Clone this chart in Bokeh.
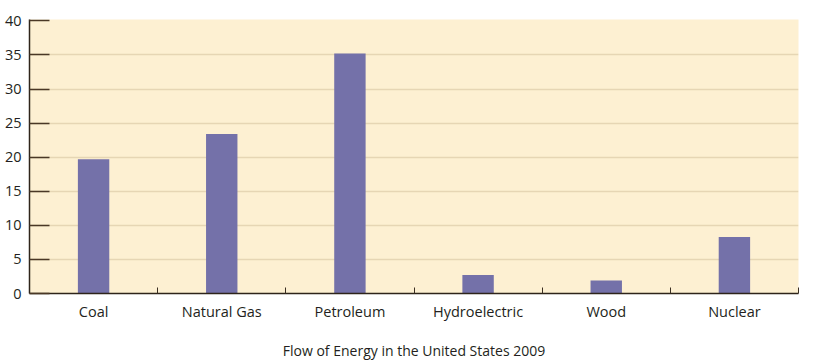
from bokeh.plotting import figure
from bokeh.models import FixedTicker, Range1d
from bokeh.embed import file_html
from bokeh.resources import INLINE

categories = ["Coal", "Natural Gas", "Petroleum", "Hydroelectric", "Wood", "Nuclear"]
values = [19.7, 23.4, 35.2, 2.7, 1.9, 8.3]
y_ticks = [0, 5, 10, 15, 20, 25, 30, 35, 40]
title_text = "Flow of Energy in the United States 2009"

centers = [i + 0.5 for i in range(len(categories))]
bounds = list(range(1, len(categories) + 1))

p = figure(width=810, height=362, output_backend="svg", toolbar_location=None,
           x_range=Range1d(0, len(categories)), y_range=Range1d(0, 40.2),
           min_border_left=29, min_border_right=12, min_border_top=19, min_border_bottom=66)

p.background_fill_color = "#fdf0d2"
p.border_fill_color = "white"
p.outline_line_color = None

p.vbar(x=centers, top=values, width=0.245, fill_color="#7471a9", line_color=None)

font = "Open Sans"
# x axis
p.xaxis.ticker = FixedTicker(ticks=centers, minor_ticks=bounds)
p.xaxis.major_label_overrides = {c: cat for c, cat in zip(centers, categories)}
p.xaxis.major_tick_in = 0
p.xaxis.major_tick_out = 0
p.xaxis.minor_tick_in = 6
p.xaxis.minor_tick_out = 0
p.xaxis.minor_tick_line_color = "#3a2e22"
p.xaxis.axis_line_color = "#2e241a"
p.xaxis.axis_line_width = 1.5
p.xaxis.major_label_text_font = font
p.xaxis.major_label_text_font_size = "14.5px"
p.xaxis.major_label_text_color = "#231f20"
p.xaxis.major_label_standoff = 8
p.xaxis.axis_label = title_text
p.xaxis.axis_label_text_font = font
p.xaxis.axis_label_text_font_style = "normal"
p.xaxis.axis_label_text_font_size = "14px"
p.xaxis.axis_label_text_color = "#231f20"
p.xaxis.axis_label_standoff = 17

# y axis
p.yaxis.ticker = FixedTicker(ticks=y_ticks)
p.yaxis.major_tick_in = 20
p.yaxis.major_tick_out = 0
p.yaxis.minor_tick_line_color = None
p.yaxis.major_tick_line_color = "#4a3826"
p.yaxis.major_tick_line_width = 1.5
p.yaxis.axis_line_color = "#2e241a"
p.yaxis.axis_line_width = 1.5
p.yaxis.major_label_text_font = font
p.yaxis.major_label_text_font_size = "14.5px"
p.yaxis.major_label_text_color = "#231f20"
p.yaxis.major_label_standoff = 8

p.xgrid.grid_line_color = None
p.ygrid.ticker = FixedTicker(ticks=y_ticks[1:-1])
p.ygrid.grid_line_color = "#e6d6b4"
p.ygrid.grid_line_width = 1.5

open("out.html", "w").write(file_html(p, INLINE))
